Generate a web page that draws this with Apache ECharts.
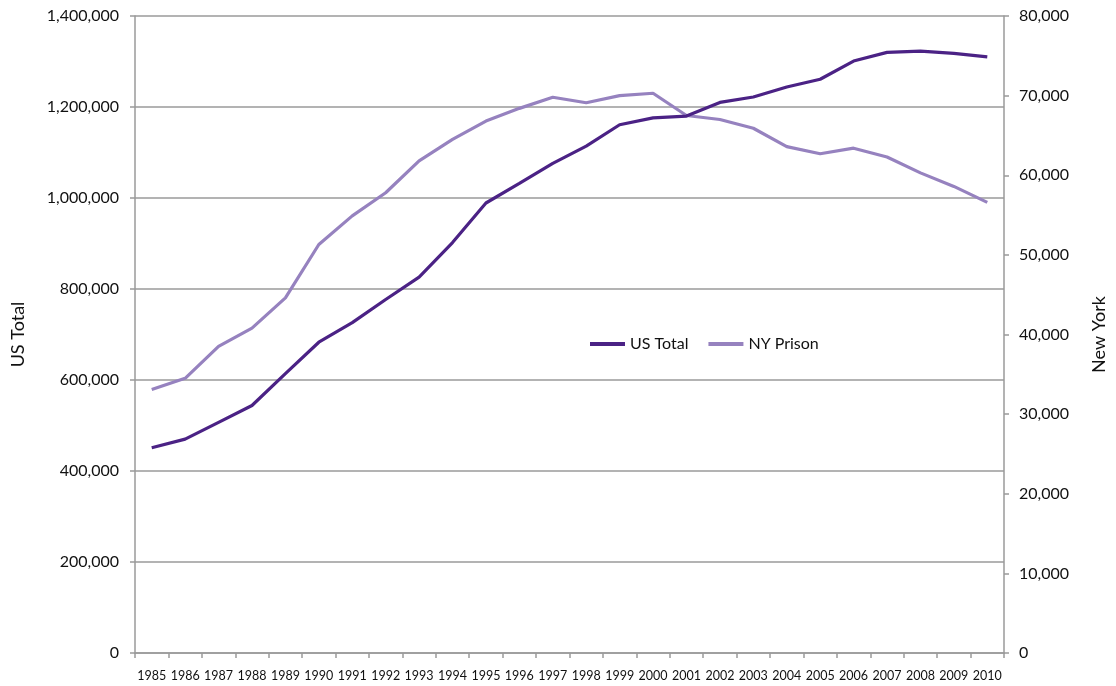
<!DOCTYPE html>
<html>
<head>
<meta charset="utf-8">
<script src="https://cdn.jsdelivr.net/npm/echarts@6/dist/echarts.min.js"></script>
<style>
html,body{margin:0;padding:0;background:#fff;}
#chart{width:1116px;height:686px;}
</style>
</head>
<body>
<div id="chart"></div>
<script>
const years = ['1985','1986','1987','1988','1989','1990','1991','1992','1993','1994','1995','1996','1997','1998','1999','2000','2001','2002','2003','2004','2005','2006','2007','2008','2009','2010'];
const usTotal = [451000,470000,507000,544000,614000,683000,726000,777000,826000,902000,989000,1032000,1076000,1114000,1161000,1176000,1180000,1210000,1222000,1244000,1261000,1301000,1320000,1323000,1318000,1310000];
const nyPrison = [33100,34500,38500,40800,44600,51300,54900,57800,61800,64500,66800,68400,69800,69100,70000,70300,67500,67000,65900,63600,62700,63400,62300,60300,58600,56600];
const leftTicks = {min:0, max:1400000, interval:200000};
const rightTicks = {min:0, max:80000, interval:10000};

const font = 'Lato, "Open Sans", sans-serif';
const gray = '#9a9a9a';
const fmt = v => v.toLocaleString('en-US');

const chart = echarts.init(document.getElementById('chart'), null, {renderer:'canvas'});
chart.setOption({
  animation:false,
  backgroundColor:'#fff',
  textStyle:{fontFamily:font, color:'#111'},
  grid:{left:135, right:105, top:16, bottom:33, containLabel:false},
  legend:{
    left:585, top:331, itemWidth:35, itemHeight:4, itemGap:20, icon:'rect',
    textStyle:{fontFamily:font, fontSize:16, color:'#111'},
    data:['US Total','NY Prison']
  },
  xAxis:{
    type:'category', data:years, boundaryGap:true,
    axisLine:{lineStyle:{color:gray, width:1.5}},
    axisTick:{show:true, length:5, lineStyle:{color:gray, width:1.5}},
    axisLabel:{fontFamily:font, fontSize:12.5, color:'#111', margin:16, interval:0},
    splitLine:{show:false}
  },
  yAxis:[
    {
      type:'value', min:leftTicks.min, max:leftTicks.max, interval:leftTicks.interval,
      name:'US Total', nameLocation:'middle', nameGap:108, nameRotate:90,
      nameTextStyle:{fontFamily:font, fontSize:18, color:'#111'},
      axisLine:{show:true, lineStyle:{color:gray, width:1.5}},
      axisTick:{show:true, length:5, lineStyle:{color:gray, width:1.5}},
      axisLabel:{fontFamily:font, fontSize:16, color:'#111', margin:16, formatter:fmt},
      splitLine:{show:true, lineStyle:{color:gray, width:1.5}}
    },
    {
      type:'value', position:'right', min:rightTicks.min, max:rightTicks.max, interval:rightTicks.interval,
      name:'New York', nameLocation:'middle', nameGap:86, nameRotate:90,
      nameTextStyle:{fontFamily:font, fontSize:18, color:'#111'},
      axisLine:{show:true, lineStyle:{color:gray, width:1.5}},
      axisTick:{show:true, length:5, lineStyle:{color:gray, width:1.5}},
      axisLabel:{fontFamily:font, fontSize:16, color:'#111', margin:15, formatter:fmt},
      splitLine:{show:false}
    }
  ],
  series:[
    {
      name:'US Total', type:'line', yAxisIndex:0, data:usTotal,
      showSymbol:false, symbol:'none',
      lineStyle:{color:'#4b2285', width:3.2},
      itemStyle:{color:'#4b2285'}, z:3
    },
    {
      name:'NY Prison', type:'line', yAxisIndex:1, data:nyPrison,
      showSymbol:false, symbol:'none',
      lineStyle:{color:'#9682bf', width:3.2},
      itemStyle:{color:'#9682bf'}, z:2
    }
  ]
});
</script>
</body>
</html>
